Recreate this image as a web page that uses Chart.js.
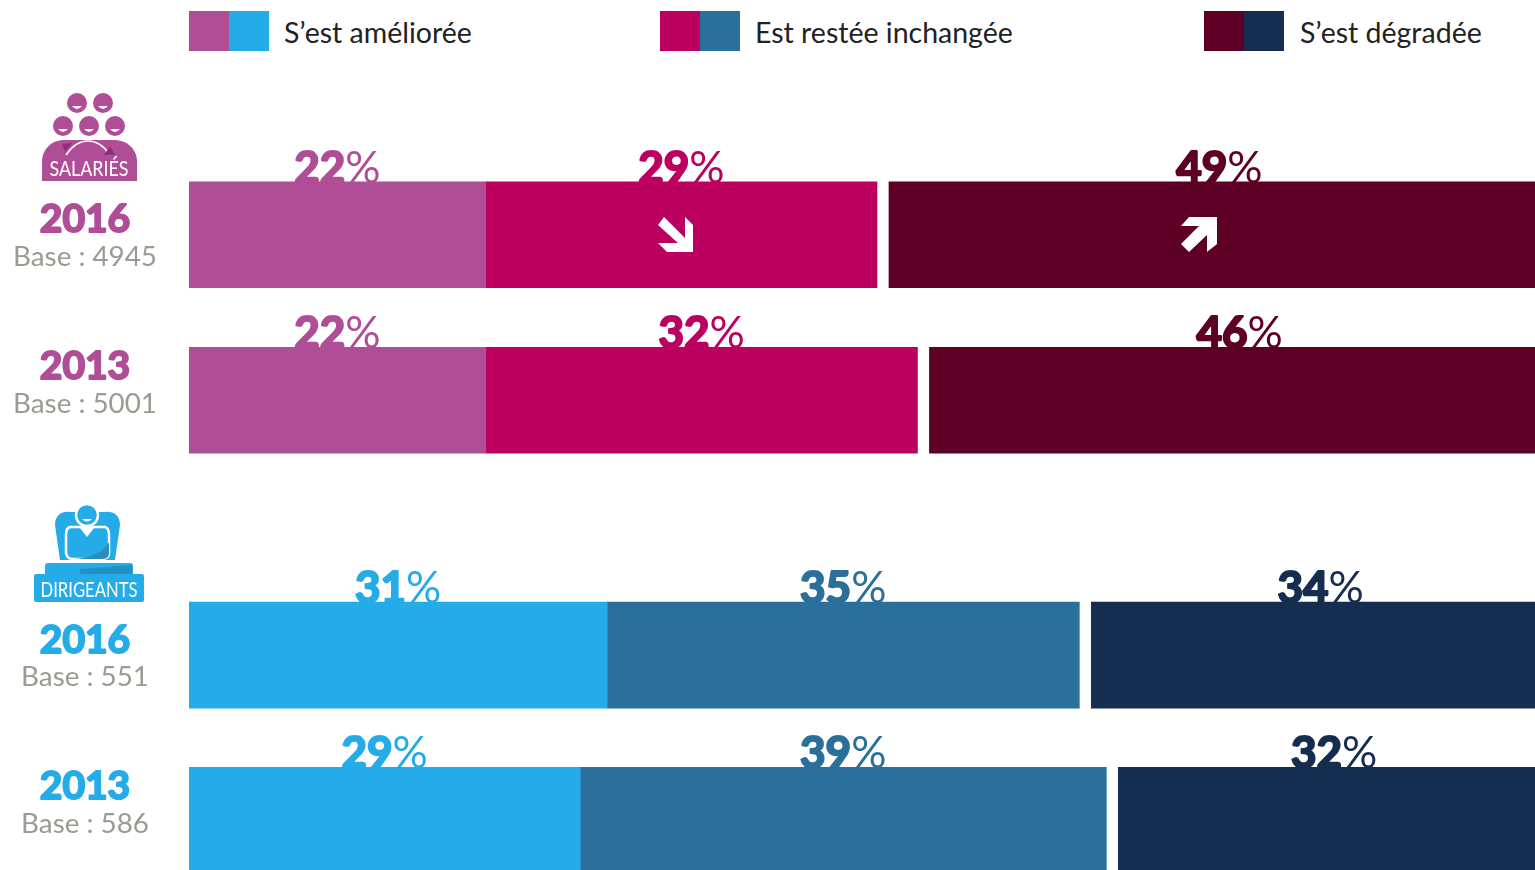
<!DOCTYPE html>
<html lang="fr">
<head>
<meta charset="utf-8">
<title>Situation</title>
<script src="https://cdn.jsdelivr.net/npm/chart.js@4"></script>
<style>
  html, body { margin: 0; padding: 0; background: #fff; }
  body { position: relative; width: 1535px; height: 870px; overflow: hidden; font-family: Lato, sans-serif; }
  canvas { position: absolute; left: 0; }
  #chart-salaries { top: 100px; }
  #chart-dirigeants { top: 520px; }
  .swatch { position: absolute; top: 11px; width: 40px; height: 40px; }
  .legend-text { position: absolute; top: 14px; font-size: 28.5px; line-height: 36px; color: #222; white-space: nowrap; }
  svg { position: absolute; left: 0; top: 0; pointer-events: none; }
  svg text { font-family: Lato, sans-serif; font-size: 22px; }
</style>
</head>
<body>

<div class="swatch" style="left:189px;background:#AF4E96"></div>
<div class="swatch" style="left:229px;background:#25ACE8"></div>
<div class="legend-text" style="left:284px">S’est améliorée</div>
<div class="swatch" style="left:660px;background:#BC0060"></div>
<div class="swatch" style="left:700px;background:#2B6F9B"></div>
<div class="legend-text" style="left:755px">Est restée inchangée</div>
<div class="swatch" style="left:1204px;background:#5E0026"></div>
<div class="swatch" style="left:1244px;background:#152D4E"></div>
<div class="legend-text" style="left:1300px">S’est dégradée</div>

<canvas id="chart-salaries" width="1535" height="383"></canvas>
<canvas id="chart-dirigeants" width="1535" height="383"></canvas>

<svg width="1535" height="870" xmlns="http://www.w3.org/2000/svg">
  <!-- fleches sur les barres 2016 -->
  <polygon fill="#fff" points="658,225 664,217 685,238 685,217 693,225 693,252 667,252 658,243 678,243"/>
  <polygon fill="#fff" points="1217,217 1217,244 1207,252 1207,235 1189,252 1181,244 1199,226 1181,226 1189,217"/>

  <!-- icone salaries -->
  <g fill="#AF4E96">
    <circle cx="77" cy="103" r="10"/><circle cx="103" cy="103" r="10"/>
    <circle cx="63" cy="126" r="10"/><circle cx="89" cy="126" r="10"/><circle cx="115" cy="126" r="10"/>
    <path d="M42 181 V160 C43 148 52 141 62 140 L116 140 C127 141 136 148 137 160 V181 Z"/>
  </g>
  <g fill="#fff">
    <path d="M72 106 q5 6 10 0 z"/><path d="M98 106 q5 6 10 0 z"/>
    <path d="M58 129 q5 6 10 0 z"/><path d="M84 129 q5 6 10 0 z"/><path d="M110 129 q5 6 10 0 z"/>
  </g>
  <path d="M66 155 C72 146 80 141 88 141 C96 141 104 146 110 155" stroke="#fff" stroke-width="1.5" fill="none"/>
  <path d="M62 144 L72 143 L65 152 Z M104 155 L110 146 L115 155 Z" fill="#8E2F78"/>
  <text x="89" y="176" fill="#fff" text-anchor="middle" textLength="79" lengthAdjust="spacingAndGlyphs">SALARIÉS</text>

  <!-- icone dirigeants -->
  <path d="M55 525 C55 515 62 511 70 512 L105 512 C113 511 120 515 120 525 L115 560 L60 560 Z" fill="#25ACE8"/>
  <path d="M88 527 L70 527 Q66 528 66 535 L66 553 Q67 559 73 559 L102 559 Q109 559 109 553 L109 535 Q109 528 105 527 Z" fill="#25ACE8" stroke="#fff" stroke-width="2.5"/>
  <path d="M74 559 C90 558 103 553 109 542 L109 553 Q109 559 102 559 Z" fill="#2B8DB8"/>
  <path d="M80 528 L87 537 L94 528 Z" fill="#fff"/>
  <circle cx="87" cy="515" r="11" fill="#25ACE8" stroke="#fff" stroke-width="2.5"/>
  <path d="M82 519 q5 5 10 0 z" fill="#fff"/>
  <path d="M45 574 V566 Q45 563 48 563 H130 Q133 563 133 566 V574 Z" fill="#25ACE8"/>
  <path d="M80 569 L132 565 V574 H80 Z" fill="#2292C6"/>
  <rect x="34" y="574" width="110" height="28" rx="2" fill="#25ACE8"/>
  <text x="89" y="597" fill="#fff" text-anchor="middle" textLength="97" lengthAdjust="spacingAndGlyphs">DIRIGEANTS</text>
</svg>

<script>
// valeurs en %
let annees = ['2016', '2013'];
let basesSalaries = ['Base : 4945', 'Base : 5001'];
let basesDirigeants = ['Base : 551', 'Base : 586'];

let salariesAmelioree = [22, 22];
let salariesInchangee = [29, 32];
let salariesDegradee = [49, 46];

let dirigeantsAmelioree = [31, 29];
let dirigeantsInchangee = [35, 39];
let dirigeantsDegradee = [34, 32];

// petit blanc entre "inchangee" et "degradee"
let ecart = [0.89, 0.89];

let couleursSalaries = ['#AF4E96', '#BC0060', '#5E0026'];
let couleursDirigeants = ['#25ACE8', '#2B6F9B', '#152D4E'];
let gris = '#9B9B92';

// decalage des textes de gauche par rapport au centre de chaque barre
let decalageAnnee = [-15, -33.5];

const etiquettes = {
  id: 'etiquettes',
  beforeDatasetsDraw(chart, args, opts) {
    const ctx = chart.ctx;
    ctx.save();
    ctx.lineJoin = 'round';
    chart.data.datasets.forEach((ds, i) => {
      if (ds.label === 'ecart') return;
      chart.getDatasetMeta(i).data.forEach((bar, j) => {
        const milieu = (bar.x + bar.base) / 2;
        const haut = bar.y - bar.height / 2;
        const chiffre = ds.data[j] + '';
        ctx.textBaseline = 'alphabetic';
        ctx.textAlign = 'left';
        ctx.fillStyle = ds.backgroundColor;
        ctx.strokeStyle = ds.backgroundColor;
        ctx.lineWidth = 2.2;
        ctx.font = '700 44px Lato';
        const l1 = ctx.measureText(chiffre).width;
        ctx.font = '400 44px Lato';
        const l2 = ctx.measureText('%').width;
        const x0 = milieu - (l1 + l2) / 2;
        ctx.font = '700 44px Lato';
        ctx.fillText(chiffre, x0, haut + 1);
        ctx.strokeText(chiffre, x0, haut + 1);
        ctx.font = '400 44px Lato';
        ctx.fillText('%', x0 + l1, haut + 1);
      });
    });
    ctx.restore();
  },
  afterDraw(chart, args, opts) {
    const ctx = chart.ctx;
    const y = chart.scales.y;
    ctx.save();
    ctx.textAlign = 'center';
    ctx.textBaseline = 'middle';
    ctx.lineJoin = 'round';
    annees.forEach((a, i) => {
      const c = y.getPixelForValue(i) + decalageAnnee[i];
      ctx.fillStyle = opts.couleur;
      ctx.strokeStyle = opts.couleur;
      ctx.lineWidth = 2;
      ctx.font = '700 39px Lato';
      ctx.fillText(a, 85, c);
      ctx.strokeText(a, 85, c);
      ctx.fillStyle = gris;
      ctx.font = '400 27.8px Lato';
      ctx.fillText(opts.bases[i], 85, c + 37);
    });
    ctx.restore();
  }
};

function dessine(id, amelioree, inchangee, degradee, couleurs, bases, hautPadding) {
  return new Chart(document.getElementById(id), {
    type: 'bar',
    data: {
      labels: annees,
      datasets: [
        { label: 'S’est améliorée', data: amelioree, backgroundColor: couleurs[0] },
        { label: 'Est restée inchangée', data: inchangee, backgroundColor: couleurs[1] },
        { label: 'ecart', data: ecart, backgroundColor: 'rgba(0,0,0,0)' },
        { label: 'S’est dégradée', data: degradee, backgroundColor: couleurs[2] }
      ]
    },
    plugins: [etiquettes],
    options: {
      indexAxis: 'y',
      responsive: false,
      animation: false,
      barThickness: 106,
      layout: { padding: { left: 189, top: hautPadding, right: 0, bottom: 0 } },
      scales: {
        x: { stacked: true, display: false, min: 0, max: 99.78 },
        y: { stacked: true, display: false }
      },
      plugins: {
        legend: { display: false },
        tooltip: { enabled: false },
        etiquettes: { couleur: couleurs[0], bases: bases }
      }
    }
  });
}

dessine('chart-salaries', salariesAmelioree, salariesInchangee, salariesDegradee, couleursSalaries, basesSalaries, 52);
dessine('chart-dirigeants', dirigeantsAmelioree, dirigeantsInchangee, dirigeantsDegradee, couleursDirigeants, basesDirigeants, 52.5);
</script>
</body>
</html>
